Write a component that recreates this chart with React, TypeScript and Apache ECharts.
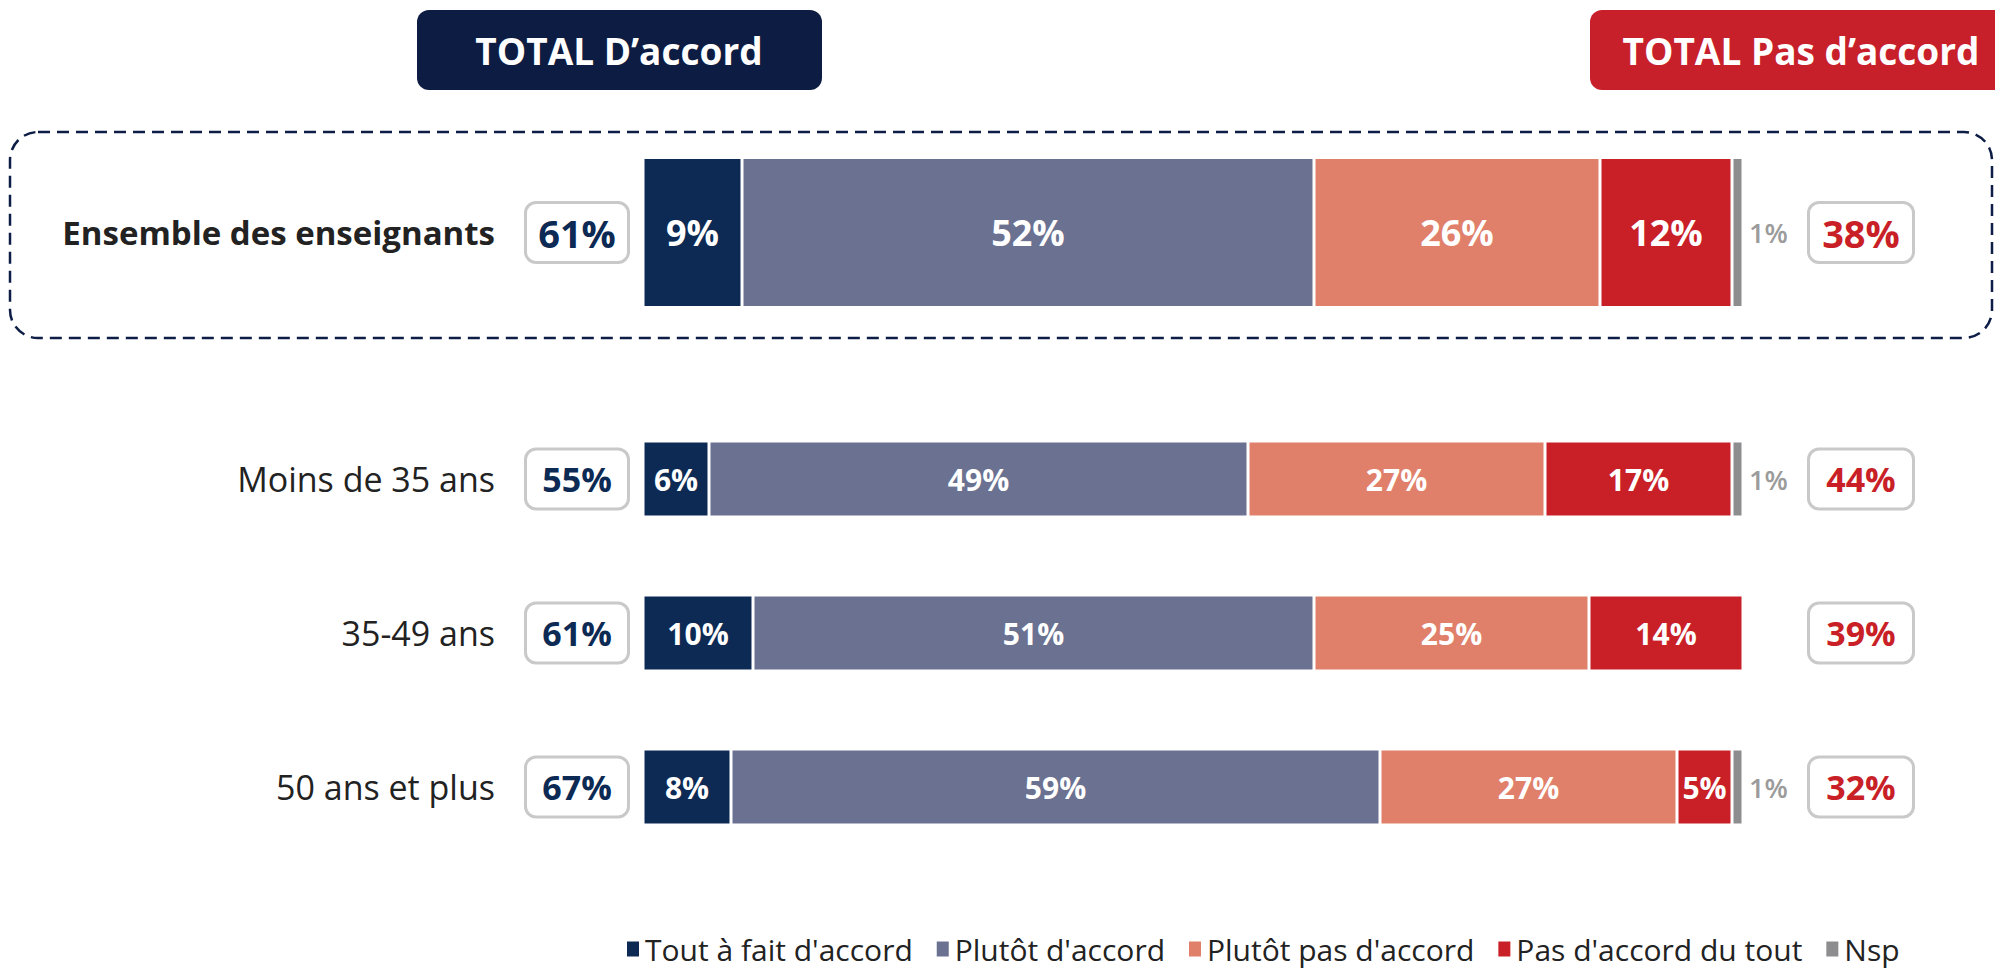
import React, { useEffect, useRef } from "react";
import * as echarts from "echarts";

const FONT = "'Open Sans', 'Noto Sans', sans-serif";

const topCategory = ["Ensemble des enseignants"];
const ageCategories = ["Moins de 35 ans", "35-49 ans", "50 ans et plus"];
const seriesNames = [
  "Tout à fait d'accord",
  "Plutôt d'accord",
  "Plutôt pas d'accord",
  "Pas d'accord du tout",
  "Nsp",
];
// order: Ensemble, Moins de 35 ans, 35-49 ans, 50 ans et plus
const toutAFait = [9, 6, 10, 8];
const plutotAccord = [52, 49, 51, 59];
const plutotPas = [26, 27, 25, 27];
const pasDuTout = [12, 17, 14, 5];
const nsp = [1, 1, 0, 1];
const totalAccord = [61, 55, 61, 67];
const totalPasAccord = [38, 44, 39, 32];
const colors = ["#0c2a54", "#6a7191", "#e0806a", "#c91f27", "#8d8d8f"];

export default function App() {
  const ref = useRef<HTMLDivElement>(null);
  useEffect(() => {
    if (!ref.current) return;
    const chart = echarts.init(ref.current, undefined, { renderer: "svg" });
    const values = [toutAFait, plutotAccord, plutotPas, pasDuTout, nsp];
    const series: any[] = [];
    [0, 1].forEach((g) => {
      values.forEach((arr, si) => {
        const data = g === 0 ? arr.slice(0, 1) : arr.slice(1);
        series.push({
          name: seriesNames[si],
          type: "bar",
          stack: g === 0 ? "top" : "ages",
          xAxisIndex: g,
          yAxisIndex: g * 2,
          data,
          barWidth: g === 0 ? 150 : 76,
          itemStyle: { color: colors[si], borderColor: "#ffffff", borderWidth: 1.5 },
          label:
            si < 4
              ? {
                  show: true,
                  position: "inside",
                  color: "#ffffff",
                  fontWeight: "bold",
                  fontFamily: FONT,
                  fontSize: g === 0 ? 36 : 30,
                  formatter: "{c}%",
                }
              : {
                  show: true,
                  position: "right",
                  distance: 6,
                  color: "#9b9b9b",
                  fontWeight: 600,
                  fontFamily: FONT,
                  fontSize: 27,
                  formatter: (p: any) => (p.value ? p.value + "%" : ""),
                },
        });
      });
    });

    const boxStyle = (color: string, g: number, w: number) => ({
      fontFamily: FONT,
      fontSize: g === 0 ? 38 : 34,
      fontWeight: "bold",
      color,
      width: w,
      height: 57,
      align: "center",
      backgroundColor: "#ffffff",
      borderColor: "#c9c9c9",
      borderWidth: 3,
      borderRadius: 9,
    });

    const yAxes: any[] = [];
    [0, 1].forEach((g) => {
      const cats = g === 0 ? topCategory : ageCategories;
      const off = g === 0 ? 0 : 1;
      yAxes.push({
        type: "category",
        gridIndex: g,
        data: cats,
        inverse: true,
        axisLine: { show: false },
        axisTick: { show: false },
        splitLine: { show: false },
        axisLabel: {
          interval: 0,
          margin: 16,
          formatter: (v: string, i: number) => `{nm|${v}}{box|${totalAccord[i + off]}%}`,
          rich: {
            nm: {
              fontFamily: FONT,
              fontSize: g === 0 ? 33 : 34,
              fontWeight: g === 0 ? "bold" : "normal",
              color: "#222222",
              padding: [0, 32, 0, 0],
            },
            box: boxStyle("#0c2a54", g, 100),
          },
        },
      });
      yAxes.push({
        type: "category",
        gridIndex: g,
        position: "right",
        data: cats,
        inverse: true,
        axisLine: { show: false },
        axisTick: { show: false },
        splitLine: { show: false },
        axisLabel: {
          interval: 0,
          margin: 67,
          formatter: (v: string, i: number) => `{box|${totalPasAccord[i + off]}%}`,
          rich: { box: boxStyle("#c91f27", g, 102) },
        },
      });
    });

    chart.setOption({
      animation: false,
      textStyle: { fontFamily: FONT },
      grid: [
        { left: 643, width: 1100, top: 157, height: 151, containLabel: false },
        { left: 643, width: 1100, top: 402, height: 462, containLabel: false },
      ],
      xAxis: [
        { type: "value", gridIndex: 0, min: 0, max: 100, show: false },
        { type: "value", gridIndex: 1, min: 0, max: 100, show: false },
      ],
      yAxis: yAxes,
      legend: {
        data: seriesNames,
        left: 620,
        top: 929,
        icon: "rect",
        itemWidth: 14,
        itemHeight: 17,
        itemGap: 22,
        textStyle: { fontSize: 30, color: "#222222", fontFamily: FONT },
      },
      graphic: [
        {
          type: "rect",
          shape: { x: 10, y: 132, width: 1982, height: 206, r: 28 },
          style: { fill: "none", stroke: "#0d1d45", lineWidth: 2.5, lineDash: [12, 7] },
        },
        {
          type: "rect",
          shape: { x: 417, y: 10, width: 405, height: 80, r: 12 },
          style: { fill: "#0d1c42" },
        },
        {
          type: "text",
          x: 619,
          y: 50,
          style: {
            text: "TOTAL D’accord",
            fill: "#ffffff",
            fontSize: 37,
            fontWeight: "bold",
            fontFamily: FONT,
            textAlign: "center",
            textVerticalAlign: "middle",
          },
        },
        {
          type: "rect",
          shape: { x: 1590, y: 10, width: 440, height: 80, r: 12 },
          style: { fill: "#c8202a" },
        },
        {
          type: "text",
          x: 1801,
          y: 50,
          style: {
            text: "TOTAL Pas d’accord",
            fill: "#ffffff",
            fontSize: 37,
            fontWeight: "bold",
            fontFamily: FONT,
            textAlign: "center",
            textVerticalAlign: "middle",
          },
        },
      ],
      series,
    });
    return () => chart.dispose();
  }, []);
  return (
    <div
      ref={ref}
      style={{ position: "absolute", left: 0, top: 0, width: 1995, height: 968 }}
    />
  );
}
